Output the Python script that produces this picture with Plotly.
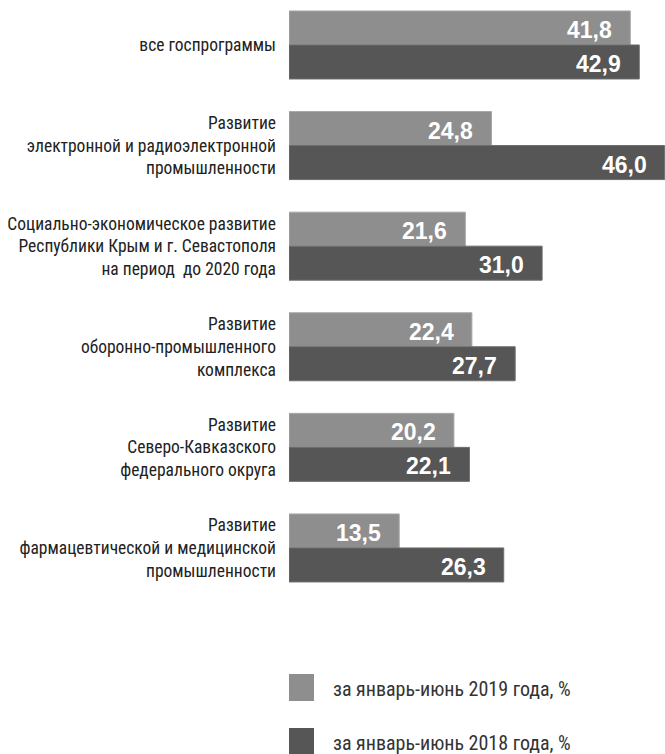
import plotly.graph_objects as go

# Programmes (top to bottom) and execution shares, %
categories = [
    "все госпрограммы",
    "Развитие<br>электронной и радиоэлектронной<br>промышленности",
    "Социально-экономическое развитие<br>Республики Крым и г. Севастополя<br>на период  до 2020 года",
    "Развитие<br>оборонно-промышленного<br>комплекса",
    "Развитие<br>Северо-Кавказского<br>федерального округа",
    "Развитие<br>фармацевтической и медицинской<br>промышленности",
]
series_names = ["за январь-июнь 2019 года, %", "за январь-июнь 2018 года, %"]
values_2019 = [41.8, 24.8, 21.6, 22.4, 20.2, 13.5]
values_2018 = [42.9, 46.0, 31.0, 27.7, 22.1, 26.3]

colors = ["#8e8e8e", "#565656"]
edge_colors = ["#a8a8a8", "#6e6e6e"]

W, H = 665, 754
M_L, M_R, M_T, M_B = 289, 0, 0, 114
BARGAP = 0.324
X_RANGE = [0, 46.05]
Y_RANGE = [5.915, -0.447]

label_font = "Roboto Condensed, Liberation Sans, sans-serif"
value_font = "Liberation Sans, Arial, sans-serif"

fig = go.Figure()
series = [values_2019, values_2018]
for name, vals, col, ecol in zip(series_names, series, colors, edge_colors):
    fig.add_trace(go.Bar(
        y=list(range(len(categories))),
        x=vals,
        orientation="h",
        name=name,
        marker=dict(color=col, line=dict(color=ecol, width=1)),
        showlegend=False,
        hoverinfo="skip",
    ))

# value labels inside the bar ends
half = (1 - BARGAP) / 4
annotations = []
for k, vals in enumerate(series):
    off = -half if k == 0 else half
    for i, v in enumerate(vals):
        annotations.append(dict(
            x=v, y=i + off, xref="x", yref="y",
            text=f"{v:.1f}".replace(".", ","),
            showarrow=False, xanchor="right", yanchor="middle",
            xshift=-16, yshift=-2,
            font=dict(family=value_font, size=23, color="white", weight="bold"),
        ))

# legend: swatches and captions below the bars
plot_w = W - M_L - M_R
plot_h = H - M_T - M_B
def px_x(p):
    return (p - M_L) / plot_w
def px_y(p):
    return 1 - (p - M_T) / plot_h

shapes = []
legend_rows = [(674, 701, 689), (728, 756, 743)]
for (top, bot, mid), name, col in zip(legend_rows, series_names, colors):
    shapes.append(dict(type="rect", xref="paper", yref="paper",
                       x0=px_x(289), x1=px_x(314), y0=px_y(bot), y1=px_y(top),
                       fillcolor=col, line=dict(width=0)))
    annotations.append(dict(x=px_x(331), y=px_y(mid), xref="paper", yref="paper",
                            text=name, showarrow=False, xanchor="left", yanchor="middle",
                            font=dict(family=label_font, size=20, color="#333333")))

fig.update_layout(
    width=W, height=H,
    margin=dict(l=M_L, r=M_R, t=M_T, b=M_B),
    paper_bgcolor="white", plot_bgcolor="white",
    barmode="group", bargap=BARGAP, bargroupgap=0,
    xaxis=dict(range=X_RANGE, showticklabels=False, showgrid=False, zeroline=False,
               showline=False, fixedrange=True, automargin=False),
    yaxis=dict(range=Y_RANGE, tickmode="array", tickvals=list(range(len(categories))),
               ticktext=categories, showgrid=False, zeroline=False, showline=False,
               ticks="", ticklabelstandoff=12, automargin=False,
               tickfont=dict(family=label_font, size=17.5, color="#222222")),
    annotations=annotations,
    shapes=shapes,
)

fig.write_html("out.html")
